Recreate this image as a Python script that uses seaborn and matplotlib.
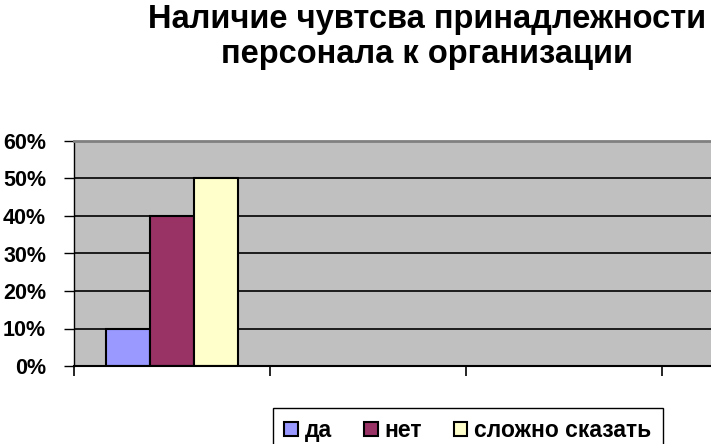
import pandas as pd
import matplotlib
matplotlib.use("Agg")
import matplotlib.pyplot as plt
import seaborn as sns
from matplotlib.ticker import PercentFormatter

# data
categories = ["1"]
answers = ["да", "нет", "сложно сказать"]
values = [0.10, 0.40, 0.50]
colors = ["#9999FF", "#993366", "#FFFFCC"]
y_ticks = [0, 0.1, 0.2, 0.3, 0.4, 0.5, 0.6]

df = pd.DataFrame({
    "category": categories * len(answers),
    "answer": answers,
    "value": values,
})

sns.set_style("white")
plt.rcParams["font.family"] = ["Liberation Sans", "DejaVu Sans"]
plt.rcParams["font.weight"] = "bold"
plt.rcParams["text.color"] = "black"
plt.rcParams["xtick.color"] = "black"
plt.rcParams["ytick.color"] = "black"

fig = plt.figure(figsize=(7.11, 4.44), dpi=100)
ax = fig.add_axes([74 / 711, 78 / 444, 1 - 74 / 711, 225 / 444])
ax.set_facecolor("#C0C0C0")

sns.barplot(data=df, x="category", y="value", hue="answer", hue_order=answers,
            palette=colors, edgecolor="black", linewidth=1.5, width=0.67,
            saturation=1, ax=ax)

ax.set_xlim(-0.5, 2.75)
ax.set_ylim(0, 0.6)
ax.set_yticks(y_ticks)
ax.yaxis.set_major_formatter(PercentFormatter(1.0, decimals=0))
ax.set_xticks([-0.5, 0.5, 1.5, 2.5])
ax.set_xticklabels([])
ax.grid(axis="y", color="black", linewidth=1.2)
ax.set_axisbelow(True)
ax.tick_params(axis="y", length=7, width=1, direction="out", pad=13,
               labelsize=15.5, left=True)
ax.tick_params(axis="x", length=7, width=1.2, direction="out", bottom=True)
for lbl in ax.get_yticklabels():
    lbl.set_fontweight("bold")
ax.set_xlabel("")
ax.set_ylabel("")

ax.spines["top"].set_color("#808080")
ax.spines["top"].set_linewidth(2)
ax.spines["left"].set_color("black")
ax.spines["left"].set_linewidth(1)
ax.spines["bottom"].set_color("black")
ax.spines["bottom"].set_linewidth(1.5)
ax.spines["right"].set_visible(False)

fig.text(0.60, 0.99, "Наличие чувтсва принадлежности\nперсонала к организации",
         ha="center", va="top", fontsize=23.5, fontweight="bold", linespacing=1.15)

handles, labels = ax.get_legend_handles_labels()
ax.legend(handles, labels, loc="upper left", ncol=3, mode="expand",
          bbox_to_anchor=(273 / 711, 1 - 412 / 444, 390 / 711, 0.01),
          bbox_transform=fig.transFigure,
          frameon=True, fancybox=False, edgecolor="black", framealpha=1,
          handlelength=0.6, handleheight=0.6, handletextpad=0.3,
          columnspacing=1.0, borderpad=0.5, borderaxespad=0,
          prop={"weight": "bold", "size": 16.5})

fig.savefig("out.png", dpi=100)
